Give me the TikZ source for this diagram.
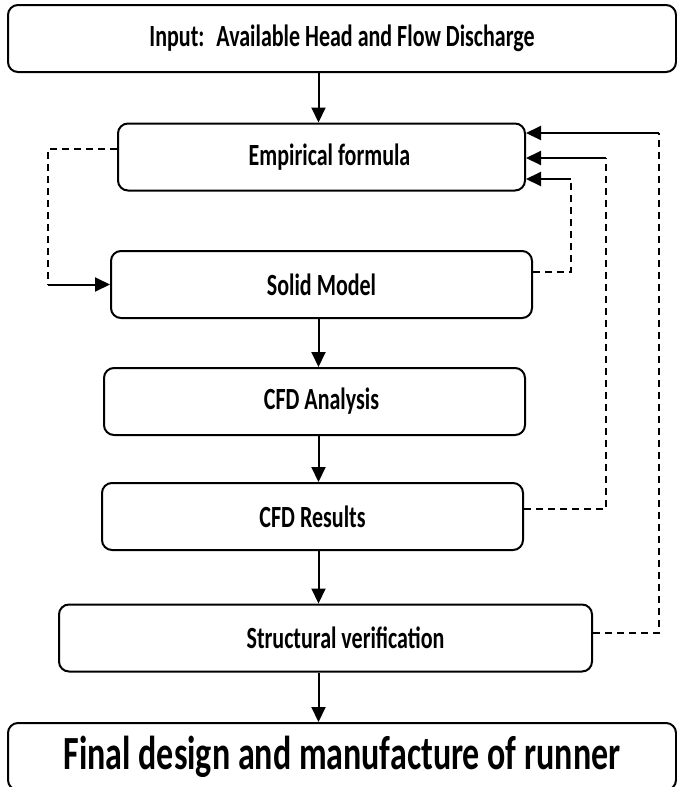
\documentclass[tikz,border=0pt]{standalone}
\usepackage{fontspec}
\setmainfont{Carlito}
\usetikzlibrary{positioning, arrows.meta, calc}
\newcommand{\tall}[1]{\scalebox{1}[1.4]{#1}}
\tikzstyle{bx}=[%
      rectangle, rounded corners=10pt, draw=black, line width=2pt, fill=none,
      inner sep=0pt, minimum height=67pt, font=\fontsize{22}{26}\selectfont\bfseries
]
\tikzstyle{fb}=[%
      dash pattern=on 7pt off 5pt, line width=1.8pt
]

\begin{document}
\begin{tikzpicture}[x=1pt, y=-1pt, line width=2pt,
    >={Triangle[length=15pt,width=14pt]}
  ]
    \useasboundingbox (0,0) rectangle (677,787);

    \node[bx, minimum width=668pt] (in)    at (342,38.5)   {\tall{Input:\hspace{12pt}Available Head and Flow Discharge}};
    \node[bx, minimum width=407pt] (emp)   at (321.5,157)  {\hspace*{16pt}\tall{Empirical formula}};
    \node[bx, minimum width=421pt] (solid) at (321.5,284.5){\tall{Solid Model}};
    \node[bx, minimum width=421pt] (cfda)  at (314.5,401.5){\hspace*{14pt}\tall{CFD Analysis}};
    \node[bx, minimum width=421pt] (cfdr)  at (312.5,516.5){\tall{CFD Results}};
    \node[bx, minimum width=533pt] (str)   at (325.5,638)  {\hspace*{40pt}\tall{Structural verification}};
    \node[bx, minimum width=668pt, font=\fontsize{34}{38}\selectfont\bfseries] (fin) at (342,756.5) {\tall{Final design and manufacture of runner}};

    % main line
    \coordinate (sp) at (318.5,0);
    \draw[->] (in.south -| sp)    -- (emp.north -| sp);
    \draw[->] (solid.south -| sp) -- (cfda.north -| sp);
    \draw[->] (cfda.south -| sp)  -- (cfdr.north -| sp);
    \draw[->] (cfdr.south -| sp)  -- (str.north -| sp);
    \draw[->] (str.south -| sp)   -- (fin.north -| sp);

    % feedback
    \coordinate (l1) at (48,149);
    \coordinate (l2) at (48,284.5);
    \draw[fb] (l1 -| emp.west) -- (l1) -- (l2);
    \draw[->] (l2) -- (solid.west);

    \coordinate (r1) at (571,179);
    \coordinate (r1b) at (571,272);
    \draw[fb] (r1b -| solid.east) -- (r1b) -- (r1);
    \draw[->] (r1) -- (r1 -| emp.east);

    \coordinate (r2) at (606,158);
    \coordinate (r2b) at (606,509);
    \draw[fb] (r2b -| cfdr.east) -- (r2b) -- (r2);
    \draw[->] (r2) -- (r2 -| emp.east);

    \coordinate (r3) at (659,133);
    \coordinate (r3b) at (659,633);
    \draw[fb] (r3b -| str.east) -- (r3b) -- (r3);
    \draw[->] (r3) -- (r3 -| emp.east);
  \end{tikzpicture}
\end{document}
